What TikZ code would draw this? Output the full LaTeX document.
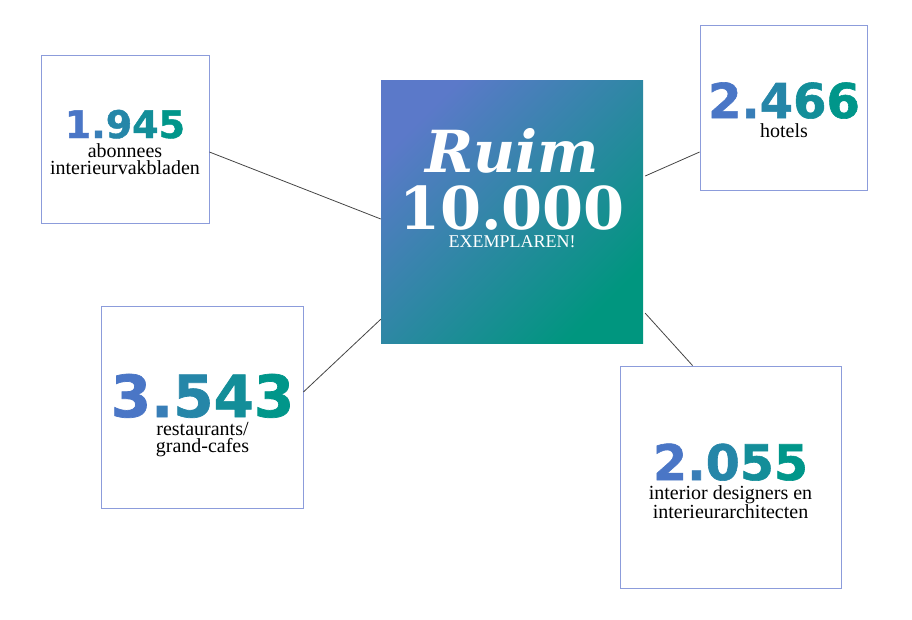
\documentclass[tikz,border=0pt]{standalone}
\usepackage{fontspec}
\setmainfont{Liberation Serif}
\newfontfamily\numfont[FakeBold=1.2]{DejaVu Sans}
\newfontfamily\headfont{DejaVu Serif}
\usetikzlibrary{positioning}
\definecolor{boxline}{HTML}{8C9CDB}
\definecolor{linkgray}{HTML}{444444}
\definecolor{numA}{HTML}{4A76C6}
\definecolor{numB}{HTML}{00968A}
\definecolor{sqA}{HTML}{5B79C9}
\definecolor{sqM}{HTML}{1A8DAA}
\definecolor{sqB}{HTML}{00967F}
\newcommand\gnum[5]{\textcolor{numA}{#1}\textcolor{numA!75!numB}{#2}\textcolor{numA!50!numB}{#3}\textcolor{numA!25!numB}{#4}\textcolor{numB}{#5}}
\tikzset{
   statbox/.style = {draw=boxline, line width=0.8pt, fill=white},
       num/.style = {font=\numfont\bfseries\fontsize{#1}{#1}\selectfont,
                     inner sep=0pt, anchor=base},
       lbl/.style = {font=\fontsize{20}{17}\selectfont, align=center,
                     inner sep=0pt, below=4.5pt of #1},
      head/.style = {white, inner sep=0pt, anchor=base},
      link/.style = {draw=linkgray, line width=0.8pt},
        }
\begin{document}
\begin{tikzpicture}[x=1pt,y=-1pt]
\useasboundingbox (0,0) rectangle (912,619);
% centre square
\node[minimum width=262pt, minimum height=263pt, top color=sqA, middle color=sqM,
      bottom color=sqB, shading angle=45] (c) at (512,211.5) {};
\node[head, font=\headfont\bfseries\itshape\fontsize{58}{58}\selectfont] (ruim) at (512,172) {Ruim};
\node[head, font=\headfont\bfseries\fontsize{59}{59}\selectfont] (total) at (512,229) {10.000};
\node[head, font=\fontsize{18}{18}\selectfont] (ex) at (512,247) {EXEMPLAREN!};
% boxes
\node[statbox, minimum width=168pt, minimum height=168pt] (b1) at (125,139) {};
\node[num=38] (n1) at (125,138) {\gnum{1}{.}{9}{4}{5}};
\node[lbl=n1] (l1) {abonnees\\interieurvakbladen};
\node[statbox, minimum width=167pt, minimum height=165pt] (b2) at (783.5,107.5) {};
\node[num=48] (n2) at (784,118) {\gnum{2}{.}{4}{6}{6}};
\node[lbl=n2] (l2) {hotels};
\node[statbox, minimum width=202pt, minimum height=202pt] (b3) at (202,407) {};
\node[num=58] (n3) at (202.5,417) {\gnum{3}{.}{5}{4}{3}};
\node[lbl=n3] (l3) {restaurants/\\grand-cafes};
\node[statbox, minimum width=221pt, minimum height=222pt] (b4) at (730.5,477) {};
\node[num=49] (n4) at (730.5,480) {\gnum{2}{.}{0}{5}{5}};
\node[lbl=n4] (l4) {interior designers en\\interieurarchitecten};
% connectors
\draw[link] ([yshift=-13pt]b1.east) -- ([yshift=-7.5pt]c.west);
\draw[link] ([xshift=2pt,yshift=35.5pt]c.east) -- ([yshift=-44.5pt]b2.west);
\draw[link] ([yshift=15pt]b3.east) -- ([yshift=24pt]c.south west);
\draw[link] ([xshift=2pt,yshift=30pt]c.south east) -- ([xshift=73pt]b4.north west);
\end{tikzpicture}
\end{document}
